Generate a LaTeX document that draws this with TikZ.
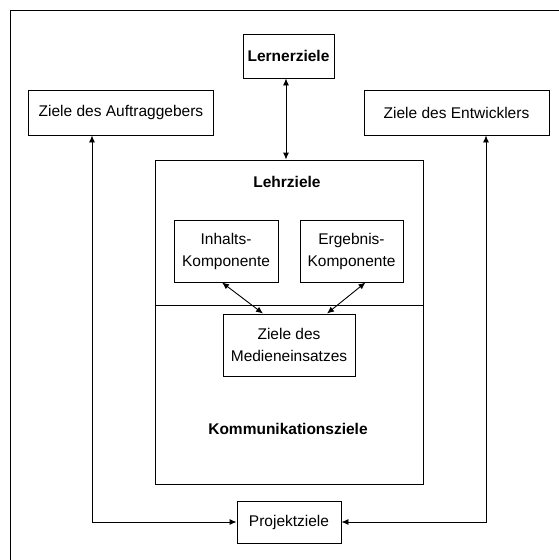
\documentclass[tikz,border=0pt]{standalone}
\usepackage{fontspec}
\setmainfont{Liberation Sans}
\usetikzlibrary{arrows.meta,calc}
\begin{document}
\begin{tikzpicture}[x=1pt,y=-1pt,
  every node/.style={font=\fontsize{15.5}{22}\selectfont, align=center, inner sep=0pt},
  box/.style={draw, line width=0.9pt},
  conn/.style={line width=0.9pt, {Latex[length=7pt,width=6pt]}-{Latex[length=7pt,width=6pt]}},
  lbl/.style={font=\fontsize{15.5}{22}\selectfont\bfseries}]
\useasboundingbox (0,0) rectangle (559,560);
\draw[line width=0.9pt] (10,560) -- (10,10) -- (559,10);
\node[box, minimum width=91pt, minimum height=44pt, lbl] (lern) at (288.5,56) {Lernerziele};
\node[box, minimum width=185pt, minimum height=45pt] (auf) at (121,112.5) {Ziele des Auftraggebers};
\node[box, minimum width=185pt, minimum height=45pt] (ent) at (456.5,112.5) {Ziele des Entwicklers};
\node[box, minimum width=268pt, minimum height=324pt] (lehr) at (289,322) {};
\draw[line width=0.9pt] (lehr.west |- 0,305) -- (lehr.east |- 0,305);
\node[lbl] (lehrlbl) at (287,182) {Lehrziele};
\node[box, minimum width=104pt, minimum height=62pt] (inh) at (226,251) {Inhalts-\\Komponente};
\node[box, minimum width=103pt, minimum height=62pt] (erg) at (351.5,251) {Ergebnis-\\Komponente};
\node[box, minimum width=132pt, minimum height=62pt] (med) at (289,345) {Ziele des\\Medieneinsatzes};
\node[lbl] (komm) at (288,429) {Kommunikationsziele};
\node[box, minimum width=104pt, minimum height=42pt] (proj) at (289,522) {Projektziele};
\coordinate (lx) at (92,0);
\coordinate (rx) at (486,0);
\coordinate (mx) at (286,0);
\draw[conn] (lern.south -| mx) -- (lehr.north -| mx);
\draw[conn] (auf.south -| lx) |- (proj.west);
\draw[conn] (ent.south -| rx) |- (proj.east);
\draw[conn] ($(inh.south)+(-4,0)$) -- ($(med.north)+(-26,0)$);
\draw[conn] ($(erg.south)+(14,0)$) -- ($(med.north)+(38,0)$);
\end{tikzpicture}
\end{document}
